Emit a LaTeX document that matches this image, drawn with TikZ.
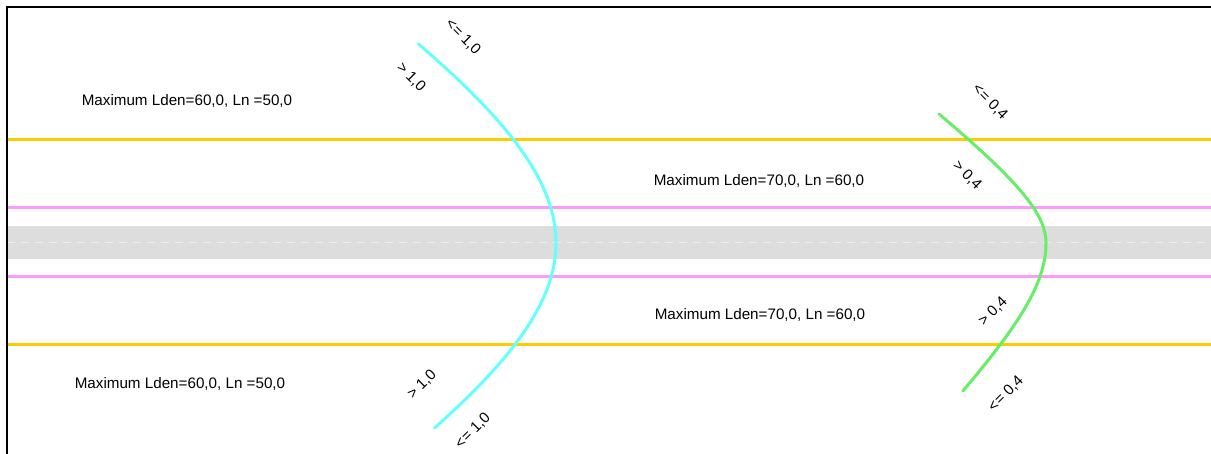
\documentclass[tikz,border=0pt]{standalone}
\usepackage{fontspec}
\setmainfont{Liberation Sans}
\definecolor{roadgray}{RGB}{221,221,221}
\definecolor{dashwhite}{RGB}{238,238,238}
\definecolor{zoneyellow}{RGB}{255,204,0}
\definecolor{zonepink}{RGB}{255,153,255}
\definecolor{isocyan}{RGB}{102,255,255}
\definecolor{isogreen}{RGB}{102,238,102}
\begin{document}
\begin{tikzpicture}[x=1pt,y=-1pt,
  yellowline/.style={draw=zoneyellow,line width=3pt},
  pinkline/.style={draw=zonepink,line width=3pt},
  zonelabel/.style={font=\fontsize{15.2}{17}\selectfont,inner sep=0pt},
  isolabel/.style={font=\fontsize{15}{17}\selectfont,inner sep=0pt},
  contour/.style={line width=3pt,line cap=round}]
\useasboundingbox (0,0) rectangle (1211,454);
\fill[white] (0,0) rectangle (1211,454);
% road
\fill[roadgray] (7,226) rectangle (1211,259);
\draw[dashwhite,line width=1.5pt,dash pattern=on 8pt off 6pt] (7,242.5) -- (1211,242.5);
% lines
\draw[yellowline] (7,139.5) -- (1211,139.5);
\draw[yellowline] (7,345) -- (1211,345);
\draw[pinkline] (7,208) -- (1211,208);
\draw[pinkline] (7,277) -- (1211,277);
% frame
\draw[black,line width=1.5pt] (7,454) -- (7,7) -- (1211,7);
% contours
\draw[contour,draw=isocyan] plot[domain=-199:185,samples=90,variable=\t]
  ({556-307*(sqrt(1+(\t/190)^2)-1)},{243+\t});
\draw[contour,draw=isogreen] plot[domain=-129:0,samples=50,variable=\t]
  ({1046-78*(sqrt(1+(\t/60)^2)-1)},{243+\t})
  -- plot[domain=0:148,samples=50,variable=\t]
  ({1046-90*(sqrt(1+(\t/90)^2)-1)},{243+\t});
% zone labels
\node[zonelabel] (z1) at (187,101) {Maximum Lden=60,0, Ln =50,0};
\node[zonelabel] (z2) at (759,181) {Maximum Lden=70,0, Ln =60,0};
\node[zonelabel] (z3) at (760,315) {Maximum Lden=70,0, Ln =60,0};
\node[zonelabel] (z4) at (180,384) {Maximum Lden=60,0, Ln =50,0};
% iso labels
\node[isolabel,rotate=-45] (c1) at (463,37) {<= 1,0};
\node[isolabel,rotate=-45] (c2) at (411,77) {> 1,0};
\node[isolabel,rotate=45] (c3) at (422,385) {> 1,0};
\node[isolabel,rotate=45] (c4) at (473,431) {<= 1,0};
\node[isolabel,rotate=-45] (g1) at (990,102) {<= 0,4};
\node[isolabel,rotate=-45] (g2) at (967,175) {> 0,4};
\node[isolabel,rotate=45] (g3) at (993,312) {> 0,4};
\node[isolabel,rotate=45] (g4) at (1006,394) {<= 0,4};
\end{tikzpicture}
\end{document}
